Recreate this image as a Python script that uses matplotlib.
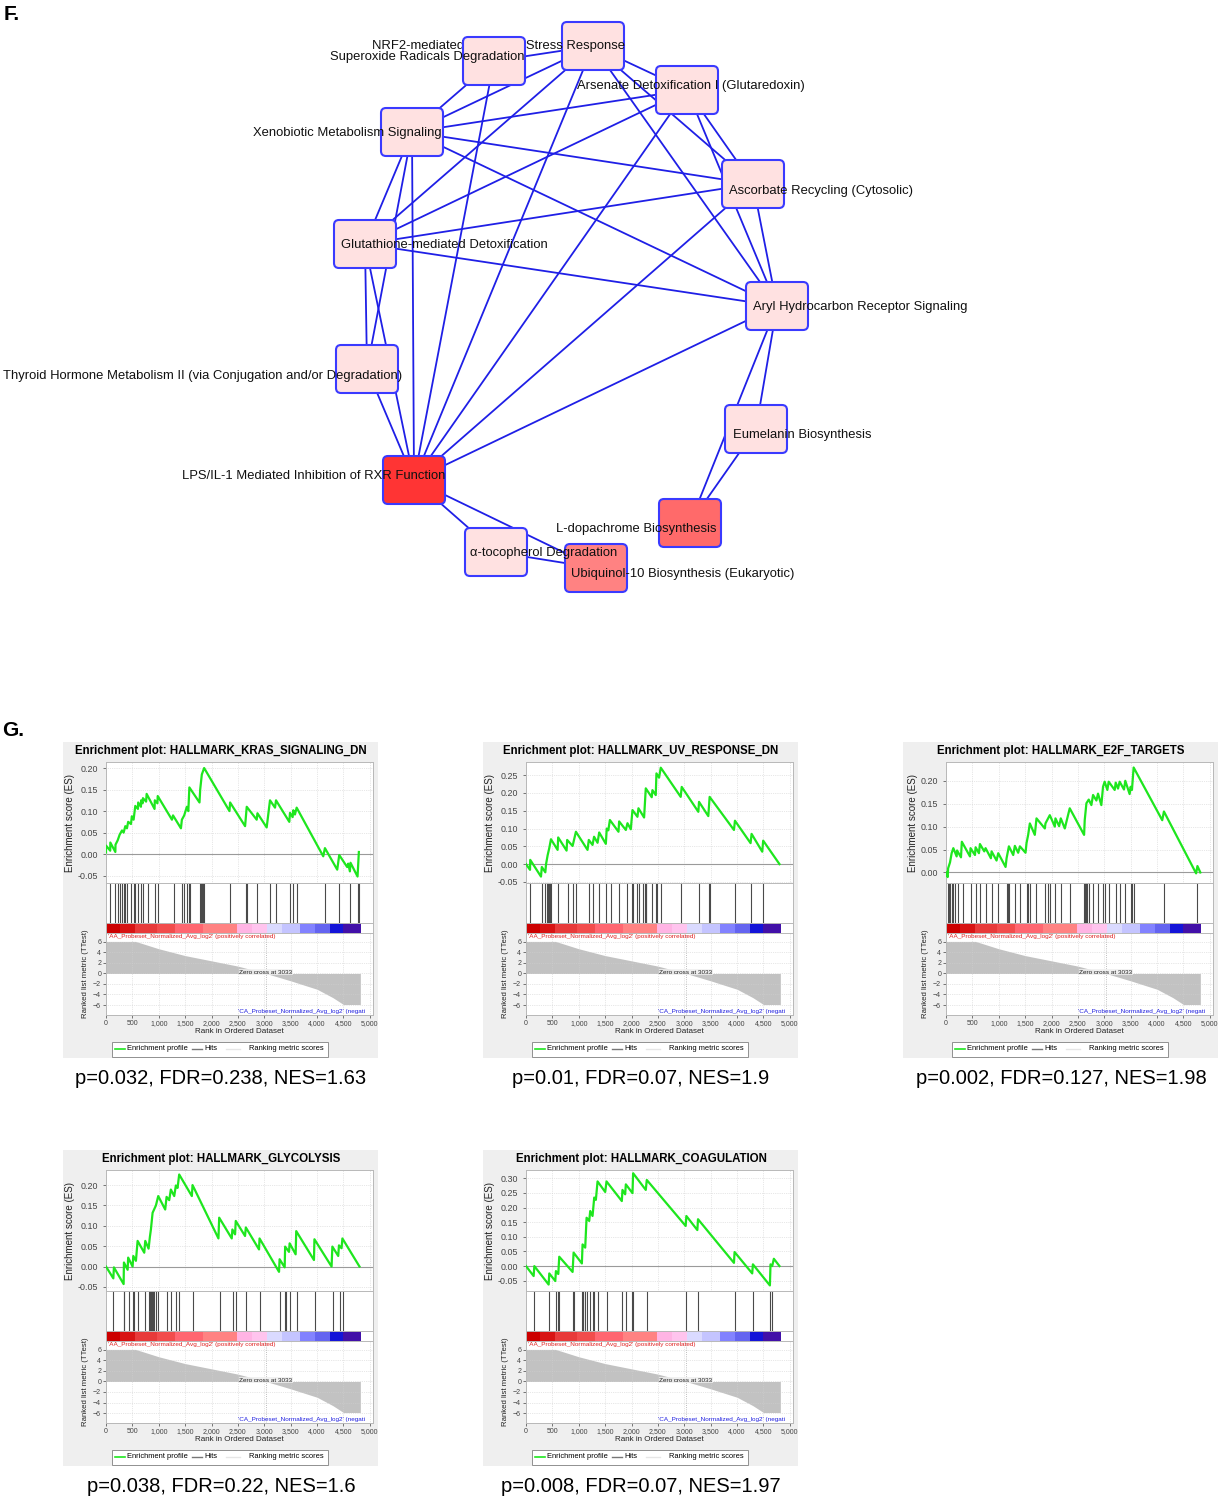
import numpy as np
import matplotlib
matplotlib.use('Agg')
import matplotlib.pyplot as plt
from matplotlib.patches import FancyBboxPatch, Rectangle

plt.rcParams['font.family'] = ['Liberation Sans', 'DejaVu Sans']

W, H = 1220, 1500

# ---------------- panel F : pathway network ----------------
node_names = {
    'N': 'NRF2-mediated Oxidative Stress Response',
    'S': 'Superoxide Radicals Degradation',
    'X': 'Xenobiotic Metabolism Signaling',
    'A': 'Arsenate Detoxification I (Glutaredoxin)',
    'C': 'Ascorbate Recycling (Cytosolic)',
    'G': 'Glutathione-mediated Detoxification',
    'H': 'Aryl Hydrocarbon Receptor Signaling',
    'T': 'Thyroid Hormone Metabolism II (via Conjugation and/or Degradation)',
    'E': 'Eumelanin Biosynthesis',
    'L': 'LPS/IL-1 Mediated Inhibition of RXR Function',
    'D': 'L-dopachrome Biosynthesis',
    'Q': '\u03b1-tocopherol Degradation',
    'U': 'Ubiquinol-10 Biosynthesis (Eukaryotic)',
}
node_fill = {'L': '#ff3434', 'D': '#ff6a6a', 'U': '#ff8282'}
edges = [('N', 'S'), ('N', 'X'), ('N', 'G'), ('N', 'L'), ('N', 'A'), ('N', 'H'),
         ('N', 'C'), ('S', 'X'), ('S', 'L'), ('X', 'A'), ('X', 'C'), ('X', 'H'),
         ('X', 'G'), ('X', 'T'), ('X', 'L'), ('G', 'A'), ('G', 'C'), ('G', 'H'),
         ('G', 'L'), ('G', 'T'), ('A', 'C'), ('A', 'H'), ('A', 'L'), ('C', 'H'),
         ('C', 'L'), ('H', 'L'), ('H', 'E'), ('H', 'D'), ('E', 'D'), ('T', 'L'),
         ('L', 'Q'), ('L', 'U'), ('Q', 'U')]

# layout in pixels (node centre, left end of label)
node_xy = {'N': (593, 46), 'S': (494, 61), 'X': (412, 132), 'A': (687, 90),
           'C': (753, 184), 'G': (365, 244), 'H': (777, 306), 'T': (367, 369),
           'E': (756, 429), 'L': (414, 480), 'D': (690, 523), 'Q': (496, 552),
           'U': (596, 568)}
label_xy = {'N': (372, 46), 'S': (330, 57), 'X': (253, 133), 'A': (577, 86),
            'C': (729, 191), 'G': (341, 245), 'H': (753, 307), 'T': (3, 376),
            'E': (733, 435), 'L': (182, 476), 'D': (556, 529), 'Q': (470, 553),
            'U': (571, 574)}
draw_order = ['N', 'S', 'X', 'G', 'T', 'A', 'C', 'H', 'E', 'L', 'D', 'U', 'Q']

# ---------------- panel G : GSEA enrichment plots ----------------
gsea_titles = ['HALLMARK_KRAS_SIGNALING_DN', 'HALLMARK_UV_RESPONSE_DN',
               'HALLMARK_E2F_TARGETS', 'HALLMARK_GLYCOLYSIS', 'HALLMARK_COAGULATION']
gsea_stats = ['p=0.032, FDR=0.238, NES=1.63', 'p=0.01, FDR=0.07, NES=1.9',
              'p=0.002, FDR=0.127, NES=1.98', 'p=0.038, FDR=0.22, NES=1.6',
              'p=0.008, FDR=0.07, NES=1.97']

es_1 = [(0, 0.004), (0, 0.02), (80, 0.008), (82, 0.027), (177, 0.005), (180, 0.022),
        (221, 0.032), (258, 0.045), (303, 0.055), (334, 0.05), (366, 0.065), (397, 0.06),
        (420, 0.075), (473, 0.07), (490, 0.088), (523, 0.08), (555, 0.112), (605, 0.105),
        (610, 0.12), (662, 0.11), (665, 0.125), (694, 0.118), (700, 0.13), (760, 0.122),
        (770, 0.14), (920, 0.105), (925, 0.125), (975, 0.118), (980, 0.135), (1250, 0.08),
        (1270, 0.09), (1420, 0.06), (1438, 0.08), (1482, 0.09), (1532, 0.11), (1560, 0.1),
        (1580, 0.155), (1772, 0.12), (1785, 0.15), (1816, 0.185), (1860, 0.2), (2340, 0.1),
        (2352, 0.12), (2636, 0.065), (2667, 0.11), (2856, 0.08), (2870, 0.095), (3045, 0.062),
        (3108, 0.125), (3203, 0.108), (3222, 0.125), (3474, 0.075), (3487, 0.096),
        (3537, 0.086), (3550, 0.102), (3581, 0.092), (3613, 0.108), (4117, -0.005),
        (4149, 0.014), (4382, -0.036), (4420, -0.002), (4571, -0.03), (4590, -0.022),
        (4622, -0.04), (4634, -0.02), (4767, -0.052), (4792, 0.005)]
es_2 = [(0, 0.0), (76, -0.016), (80, 0.012), (284, -0.035), (300, -0.008), (366, -0.023),
        (380, 0.0), (410, 0.025), (441, 0.045), (473, 0.07), (599, 0.04), (610, 0.075),
        (769, 0.038), (780, 0.068), (883, 0.051), (946, 0.091), (1166, 0.04), (1190, 0.068),
        (1261, 0.054), (1290, 0.077), (1356, 0.06), (1387, 0.089), (1513, 0.057),
        (1530, 0.1), (1560, 0.095), (1590, 0.124), (1753, 0.091), (1765, 0.12),
        (1892, 0.096), (1923, 0.115), (1986, 0.098), (2018, 0.152), (2112, 0.133),
        (2131, 0.157), (2238, 0.131), (2270, 0.213), (2383, 0.188), (2396, 0.208),
        (2459, 0.194), (2472, 0.255), (2522, 0.243), (2554, 0.271), (2932, 0.189),
        (2951, 0.217), (3266, 0.147), (3279, 0.175), (3455, 0.135), (3480, 0.189),
        (3941, 0.096), (3960, 0.122), (4256, 0.059), (4275, 0.085), (4477, 0.035),
        (4495, 0.066), (4804, 0.0)]
es_3 = [(0, 0.0), (32, -0.01), (40, 0.009), (76, 0.022), (107, 0.042), (139, 0.053),
        (202, 0.035), (210, 0.048), (284, 0.033), (300, 0.067), (454, 0.035), (465, 0.053),
        (549, 0.038), (561, 0.055), (624, 0.042), (643, 0.062), (725, 0.046), (750, 0.053),
        (851, 0.031), (864, 0.046), (958, 0.026), (990, 0.042), (1129, 0.012), (1148, 0.031),
        (1192, 0.057), (1274, 0.038), (1305, 0.058), (1368, 0.043), (1400, 0.057),
        (1507, 0.043), (1526, 0.064), (1557, 0.082), (1589, 0.107), (1683, 0.082),
        (1715, 0.118), (1873, 0.096), (1885, 0.107), (1967, 0.125), (2062, 0.1),
        (2074, 0.118), (2144, 0.101), (2175, 0.118), (2251, 0.096), (2345, 0.14),
        (2617, 0.082), (2629, 0.114), (2661, 0.151), (2705, 0.159), (2755, 0.147),
        (2787, 0.169), (2850, 0.157), (2881, 0.172), (2944, 0.147), (2976, 0.187),
        (3007, 0.198), (3058, 0.18), (3083, 0.198), (3197, 0.18), (3216, 0.196),
        (3260, 0.183), (3291, 0.198), (3373, 0.181), (3398, 0.2), (3480, 0.171),
        (3499, 0.187), (3524, 0.18), (3556, 0.229), (4098, 0.114), (4130, 0.133),
        (4740, -0.002), (4765, 0.014), (4820, 0.0)]
es_4 = [(0, 0.0), (139, -0.029), (150, -0.002), (334, -0.043), (340, 0.01), (410, -0.008),
        (420, 0.022), (504, 0.0), (517, 0.026), (567, 0.014), (599, 0.063), (725, 0.034),
        (744, 0.063), (807, 0.044), (832, 0.073), (851, 0.091), (883, 0.132), (946, 0.15),
        (990, 0.173), (1122, 0.14), (1148, 0.171), (1198, 0.163), (1229, 0.189),
        (1293, 0.173), (1324, 0.199), (1356, 0.193), (1387, 0.226), (1627, 0.173),
        (1640, 0.2), (2131, 0.069), (2145, 0.12), (2383, 0.069), (2395, 0.091),
        (2446, 0.079), (2459, 0.112), (2635, 0.075), (2650, 0.096), (2900, 0.042),
        (2910, 0.069), (3279, -0.013), (3290, 0.018), (3386, -0.002), (3395, 0.049),
        (3468, 0.036), (3480, 0.057), (3594, 0.03), (3605, 0.087), (3941, 0.016),
        (3950, 0.067), (4275, 0.0), (4290, 0.049), (4401, 0.026), (4415, 0.052),
        (4464, 0.045), (4480, 0.069), (4804, 0.0)]
es_5 = [(0, 0.0), (145, -0.034), (158, 0.0), (429, -0.063), (441, -0.025), (555, -0.051),
        (567, -0.017), (612, -0.027), (630, 0.032), (883, -0.02), (902, 0.046),
        (1059, 0.009), (1072, 0.074), (1122, 0.063), (1148, 0.165), (1198, 0.154),
        (1217, 0.188), (1261, 0.171), (1293, 0.234), (1324, 0.226), (1356, 0.289),
        (1501, 0.253), (1526, 0.289), (1816, 0.222), (1828, 0.26), (1879, 0.245),
        (1892, 0.279), (2018, 0.249), (2030, 0.317), (2270, 0.26), (2289, 0.294),
        (3026, 0.137), (3039, 0.171), (3247, 0.123), (3260, 0.16), (3941, 0.011),
        (3953, 0.048), (4287, -0.025), (4300, 0.006), (4622, -0.066), (4634, 0.006),
        (4666, 0.0), (4697, 0.025), (4804, 0.0)]

hits_1 = [82, 177, 221, 258, 303, 334, 366, 397, 473, 523, 555, 605, 662, 694, 788, 920,
          977, 1280, 1438, 1482, 1532, 1576, 1595, 1772, 1797, 1816, 1847, 1860, 2352,
          2655, 2667, 2856, 3108, 3222, 3487, 3550, 3613, 4149, 4420, 4622, 4767, 4792]
hits_2 = [76, 303, 366, 391, 410, 429, 454, 473, 612, 788, 895, 946, 1185, 1274, 1375,
          1513, 1608, 1765, 1923, 2005, 2030, 2112, 2144, 2226, 2251, 2270, 2282, 2396,
          2459, 2478, 2554, 2932, 3279, 3468, 3480, 3960, 4256, 4489]
hits_3 = [32, 57, 76, 107, 139, 170, 221, 315, 473, 561, 643, 750, 864, 990, 1148, 1166,
          1192, 1305, 1400, 1526, 1557, 1589, 1715, 1885, 1936, 1967, 2074, 2175, 2345,
          2617, 2629, 2648, 2661, 2680, 2705, 2787, 2881, 2976, 3007, 3083, 3216, 3291,
          3398, 3499, 3524, 3556, 4130, 4760]
hits_4 = [139, 334, 347, 429, 504, 536, 599, 744, 807, 832, 851, 870, 883, 908, 946, 990,
          1148, 1229, 1324, 1387, 1652, 2156, 2408, 2459, 2661, 2919, 3297, 3386, 3405,
          3487, 3613, 3960, 4300, 4426, 4489]
hits_5 = [158, 441, 567, 612, 630, 883, 902, 1059, 1072, 1084, 1122, 1148, 1217, 1261,
          1293, 1356, 1526, 1816, 1892, 2018, 2030, 2289, 3039, 3260, 3953, 4300, 4622, 4653]

es_limits = [(-0.067, 0.214), (-0.053, 0.287), (-0.023, 0.241), (-0.06, 0.237), (-0.085, 0.328)]
es_ticks = [np.arange(-0.05, 0.21, 0.05), np.arange(-0.05, 0.26, 0.05), np.arange(0.0, 0.21, 0.05),
            np.arange(-0.05, 0.21, 0.05), np.arange(-0.05, 0.31, 0.05)]

metric_rank = [0, 560, 1000, 1500, 2000, 2500, 3033, 3500, 4000, 4300, 4500, 4820]
metric_score = [6.1, 6.1, 4.7, 3.4, 2.4, 1.4, 0.0, -1.4, -3.0, -4.6, -5.9, -5.9]
zero_cross = 3033
bar_edges = [0, 271, 555, 965, 1312, 1847, 2478, 2762, 3045, 3329, 3676, 3960, 4243, 4496, 4824]
bar_colors = ['#cc0000', '#d81414', '#e83a3a', '#f24c4c', '#ff6670', '#ff8282', '#ffb4e4',
              '#ffc4ee', '#dadaff', '#c4c4ff', '#8282ff', '#6464f0', '#1414d8', '#4210a8']

es_curves = [es_1, es_2, es_3, es_4, es_5]
hit_sets = [hits_1, hits_2, hits_3, hits_4, hits_5]
panel_origin = [(63, 742), (483, 742), (903, 742), (63, 1150), (483, 1150)]

fig = plt.figure(figsize=(W / 100, H / 100), dpi=100)
base = fig.add_axes([0, 0, 1, 1])
base.set_xlim(0, W)
base.set_ylim(H, 0)
base.axis('off')

edge_col = '#1f1fe6'
for a, b in edges:
    (x1, y1), (x2, y2) = node_xy[a], node_xy[b]
    base.plot([x1, x2], [y1, y2], color=edge_col, lw=1.3, zorder=1)

bw, bh, r = 62, 48, 5
for i, k in enumerate(draw_order):
    cx, cy = node_xy[k]
    box = FancyBboxPatch((cx - bw / 2 + r, cy - bh / 2 + r), bw - 2 * r, bh - 2 * r,
                         boxstyle='round,pad=%d' % r, fc=node_fill.get(k, '#ffe1e1'),
                         ec='#3a3aff', lw=1.5, zorder=2 + 2 * i)
    base.add_patch(box)
    lx, ly = label_xy[k]
    base.text(lx, ly, node_names[k], ha='left', va='center', fontsize=9.4,
              color='#111111', zorder=3 + 2 * i)

base.text(4, 14, 'F.', fontsize=15, fontweight='bold', ha='left', va='center')
base.text(2, 730, 'G.', fontsize=15, fontweight='bold', ha='left', va='center')


def fig_rect(x0, y0, x1, y1):
    return [x0 / W, 1 - y1 / H, (x1 - x0) / W, (y1 - y0) / H]


xmax = 5060
xt = np.arange(0, 5001, 500)
xtl = ['{:,}'.format(v) for v in xt]
grid_kw = dict(color='#d0d0d0', lw=0.5, ls=':')
tick_col = '#444444'

for i in range(5):
    ox, oy = panel_origin[i]
    base.add_patch(Rectangle((ox, oy), 315, 316, fc='#efefef', ec='none', zorder=0))
    base.text(ox + 158, oy + 9, 'Enrichment plot: ' + gsea_titles[i], ha='center',
              va='center', fontsize=8.3, fontweight='bold')

    ax_es = fig.add_axes(fig_rect(ox + 43, oy + 20, ox + 310, oy + 141))
    ax_hit = fig.add_axes(fig_rect(ox + 43, oy + 141, ox + 310, oy + 181))
    ax_bar = fig.add_axes(fig_rect(ox + 43, oy + 181, ox + 310, oy + 191))
    ax_m = fig.add_axes(fig_rect(ox + 43, oy + 191, ox + 310, oy + 273))

    for ax in (ax_es, ax_hit, ax_bar, ax_m):
        ax.set_xlim(0, xmax)
        for s in ax.spines.values():
            s.set_color('#b8b8b8')
            s.set_linewidth(0.7)

    ex, ey = np.array(es_curves[i]).T
    ax_es.plot(ex, ey, color='#1ee61e', lw=1.6, zorder=3)
    ax_es.axhline(0, color='#9a9a9a', lw=0.8, zorder=2)
    ax_es.set_ylim(*es_limits[i])
    ax_es.set_yticks(es_ticks[i])
    ax_es.set_yticklabels(['%.2f' % v for v in es_ticks[i]])
    ax_es.set_xticks(xt)
    ax_es.set_xticklabels([])
    ax_es.grid(True, **grid_kw)
    ax_es.tick_params(labelsize=6.4, colors=tick_col, length=2, width=0.5)
    ax_es.set_ylabel('Enrichment score (ES)', fontsize=7, labelpad=2, color='#222222')

    ax_hit.vlines(hit_sets[i], 0, 1, color='#4a4a4a', lw=0.8)
    ax_hit.set_ylim(0, 1)
    ax_hit.set_xticks([])
    ax_hit.set_yticks([])

    for j, c in enumerate(bar_colors):
        ax_bar.axvspan(bar_edges[j], bar_edges[j + 1], color=c, lw=0)
    ax_bar.set_ylim(0, 1)
    ax_bar.set_xticks([])
    ax_bar.set_yticks([])

    ax_m.fill_between(metric_rank, metric_score, 0, color='#c2c2c2', lw=0)
    ax_m.axvline(zero_cross, color='#aaaaaa', lw=0.6, ls=':')
    ax_m.set_ylim(-7.9, 7.7)
    ax_m.set_yticks(np.arange(-6, 7, 2))
    ax_m.set_xticks(xt)
    ax_m.set_xticklabels(xtl)
    ax_m.grid(True, **grid_kw)
    ax_m.tick_params(labelsize=5, colors=tick_col, length=2, width=0.5, pad=1.5)
    ax_m.set_ylabel('Ranked list metric (TTest)', fontsize=5.6, labelpad=3, color='#222222')
    ax_m.set_xlabel('Rank in Ordered Dataset', fontsize=5.8, labelpad=1, color='#222222')
    ax_m.text(30, 7.0, "'AA_Probeset_Normalized_Avg_log2' (positively correlated)",
              color='#e02020', fontsize=4.6, va='center', ha='left')
    ax_m.text(zero_cross, 0.25, 'Zero cross at 3033', fontsize=4.6, ha='center', va='center',
              color='#222222', bbox=dict(fc='#eeeeee', ec='none', pad=0.5, alpha=0.8))
    ax_m.text(2500, -7.2, "'CA_Probeset_Normalized_Avg_log2' (negati",
              color='#2020e0', fontsize=4.6, va='center', ha='left')

    # legend strip
    ly = oy + 307
    base.add_patch(Rectangle((ox + 49, oy + 300), 216, 15, fc='white', ec='#909090',
                             lw=0.7, zorder=5))
    base.plot([ox + 52, ox + 62], [ly, ly], color='#1ee61e', lw=1.2, zorder=6)
    base.text(ox + 64, ly, 'Enrichment profile', fontsize=5.4, va='center', zorder=6)
    base.plot([ox + 129, ox + 139], [ly, ly], color='#777777', lw=1.0, zorder=6)
    base.text(ox + 141, ly, 'Hits', fontsize=5.4, va='center', zorder=6)
    base.plot([ox + 163, ox + 177], [ly, ly], color='#e6e6e6', lw=1.0, zorder=6)
    base.text(ox + 186, ly, 'Ranking metric scores', fontsize=5.4, va='center', zorder=6)

    base.text(ox + 158, oy + 337, gsea_stats[i], ha='center', va='center', fontsize=14.5)

fig.savefig('out.png', dpi=100)
